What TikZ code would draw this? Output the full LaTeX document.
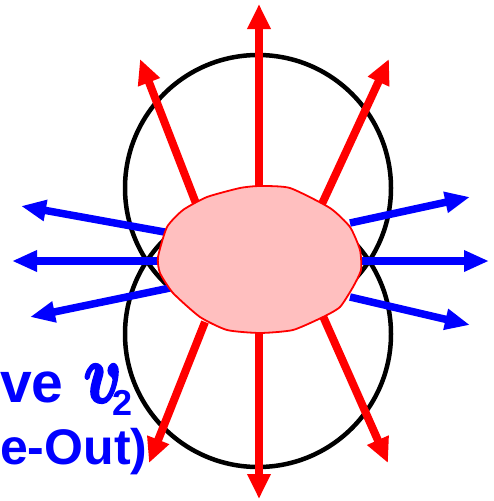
\documentclass[tikz,border=0pt]{standalone}
\usepackage{fontspec}
\setmainfont{Liberation Sans}
\usetikzlibrary{arrows.meta}
\tikzset{
  ring/.style={draw=black, line width=4.5pt},
  redarrow/.style={draw=red, line width=8pt, -{Triangle[length=25pt,width=22pt]}},
  bluearrow/.style={draw=blue, line width=7.5pt, -{Triangle[length=25pt,width=20pt]}},
  blob/.style={draw=red, line width=1.8pt, fill=red!25},
  lbl/.style={text=blue, font=\bfseries, inner sep=0pt, anchor=base west}
}
\newcommand{\heavyv}{\resizebox{38pt}{37pt}{\special{pdf:literal direct 2 Tr 0.9 w 1 j}\boldmath$v$\special{pdf:literal direct 0 Tr}}}
\begin{document}
\begin{tikzpicture}[x=1pt,y=-1pt]
\useasboundingbox (0,0) rectangle (493,501);
% circles
\draw[ring] (258,188) circle[radius=133];
\draw[ring] (258,334) circle[radius=133];
% arrow end points
\coordinate (sT) at (259,190);  \coordinate (tT) at (259,4);
\coordinate (sTL) at (197,206); \coordinate (tTL) at (140,59);
\coordinate (sTR) at (321,206); \coordinate (tTR) at (389,59);
\coordinate (sB) at (259,330);  \coordinate (tB) at (259,499);
\coordinate (sBL) at (205,322); \coordinate (tBL) at (149,463);
\coordinate (sBR) at (322,314); \coordinate (tBR) at (388,463);
\coordinate (sL) at (162,261);  \coordinate (tL) at (12,261);
\coordinate (sLU) at (170,233); \coordinate (tLU) at (21,206);
\coordinate (sLD) at (170,288); \coordinate (tLD) at (30,317);
\coordinate (sR) at (357,261);  \coordinate (tR) at (489,261);
\coordinate (sRU) at (350,223); \coordinate (tRU) at (470,197);
\coordinate (sRD) at (350,297); \coordinate (tRD) at (470,325);
% red arrows
\foreach \a in {T,TL,TR,B,BL,BR} \draw[redarrow] (s\a) -- (t\a);
% blue arrows
\foreach \a in {L,LU,LD,R,RU,RD} \draw[bluearrow] (s\a) -- (t\a);
% blob
\draw[blob] plot[smooth cycle, tension=0.35] coordinates {
 (240,188) (260,186) (290,188) (330,208) (350,227) (360,250) (361,270)
 (353,287) (340,307) (323,317) (293,330) (260,333) (227,330) (200,317)
 (173,293) (160,273) (158,257) (167,227) (183,210) (207,197)};
% labels
\node[lbl] (l1) at (0,402) {\fontsize{57}{60}\selectfont ve\hspace{20pt}\heavyv\kern-9pt\raisebox{-13pt}{\fontsize{36}{36}\selectfont 2}};
\node[lbl] (l2) at (0,464) {\fontsize{50}{52}\selectfont e-Out)};
\end{tikzpicture}
\end{document}
